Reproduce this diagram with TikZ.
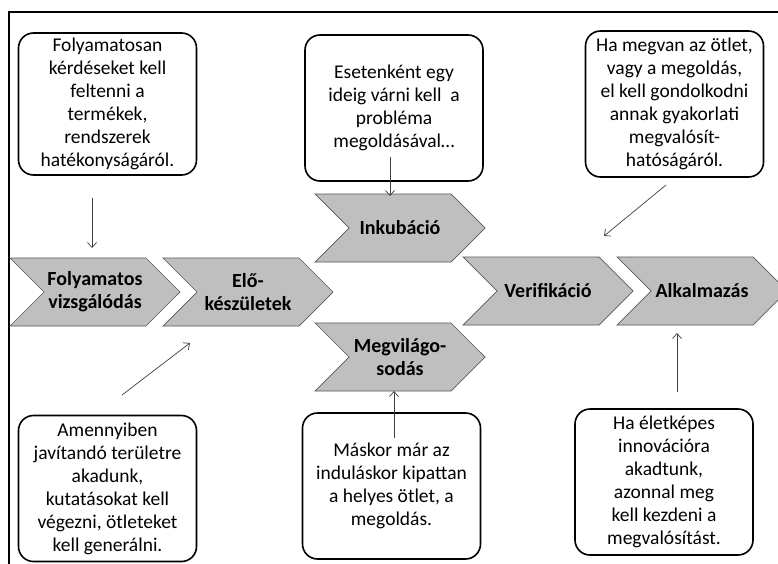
\documentclass[tikz,border=0pt]{standalone}
\usepackage{fontspec}
\setmainfont{Carlito}
\usetikzlibrary{shapes.symbols,arrows.meta}

\tikzset{
  note/.style={draw, line width=1.6pt, rounded corners=15pt, align=center,
    inner sep=1pt, minimum width=178pt, minimum height=146pt,
    font=\fontsize{19.5}{23}\selectfont},
  chev/.style={signal, signal from=west, signal to=east, signal pointer angle=90,
    fill=black!25, draw=black!65, line width=0.7pt, minimum width=170pt,
    minimum height=68pt, inner sep=0pt, align=center,
    font=\bfseries\fontsize{20}{23}\selectfont},
  conn/.style={draw=black!75, line width=0.7pt,
    -{Straight Barb[length=5pt,width=9pt]}}
}

\begin{document}
\begin{tikzpicture}[x=1pt,y=-1pt]
    \clip (0,0) rectangle (778,564);
    \fill[white] (0,0) rectangle (778,564);
    \draw[line width=2pt] (9,564) -- (9,12) -- (778,12);

    % the steps
    \node[chev] (folyam) at (95,292) {Folyamatos\\vizsgálódás};
    \node[chev] (elo) at (248,292) {Elő-\\készületek};
    \node[chev] (inkub) at (400,228) {Inkubáció};
    \node[chev] (megvil) at (400,357) {Megvilágo-\\sodás};
    \node[chev] (verif) at (548,291) {Verifikáció};
    \node[chev] (alkalm) at (702,291) {Alkalmazás};

    % the notes
    \node[note, minimum height=142pt] (q1) at (107.5,104)
      {Folyamatosan\\kérdéseket kell\\feltenni a\\termékek,\\rendszerek\\hatékonyságáról.};
    \node[note] (q2) at (394,108)
      {Esetenként egy\\ideig várni kell~ a\\probléma\\megoldásával\dots};
    \node[note] (q3) at (674.5,104)
      {Ha megvan az ötlet,\\vagy a megoldás,\\el kell gondolkodni\\annak gyakorlati\\megvalósít-\\hatóságáról.};
    \node[note] (q4) at (107.5,488.5)
      {Amennyiben\\javítandó területre\\akadunk,\\kutatásokat kell\\végezni, ötleteket\\kell generálni.};
    \node[note] (q5) at (391.5,486)
      {Máskor már az\\induláskor kipattan\\a helyes ötlet, a\\megoldás.};
    \node[note] (q6) at (664,482)
      {Ha életképes\\innovációra\\akadtunk,\\azonnal meg\\kell kezdeni a\\megvalósítást.};

    % arrow ends
    \coordinate (a1) at (92,198);
    \coordinate (b1) at (92,248);
    \coordinate (a2) at (390,157);
    \coordinate (b2) at (390,196);
    \coordinate (a3) at (666,185);
    \coordinate (b3) at (604,236);
    \coordinate (a4) at (122,395);
    \coordinate (b4) at (190,343);
    \coordinate (a5) at (394,438);
    \coordinate (b5) at (394,391);
    \coordinate (a6) at (677,392);
    \coordinate (b6) at (677,333);

    \draw[conn] (a1) -- (b1);
    \draw[conn] (a2) -- (b2);
    \draw[conn] (a3) -- (b3);
    \draw[conn] (a4) -- (b4);
    \draw[conn] (a5) -- (b5);
    \draw[conn] (a6) -- (b6);
  \end{tikzpicture}
\end{document}
